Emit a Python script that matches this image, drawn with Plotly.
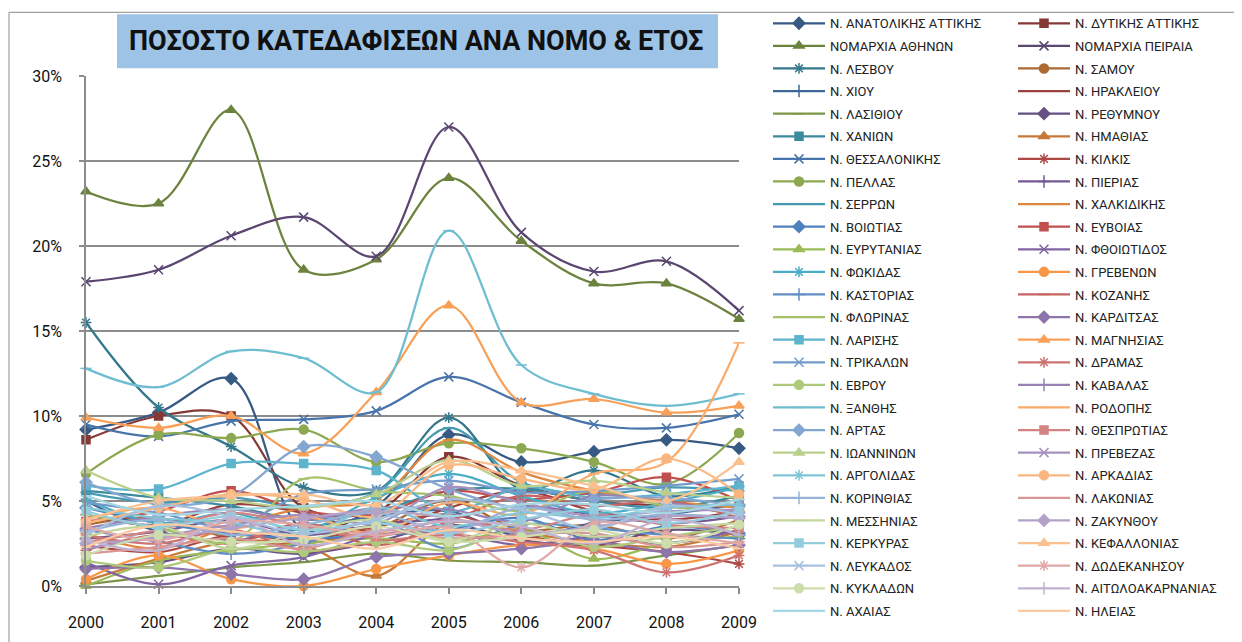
import plotly.graph_objects as go

years = ["2000", "2001", "2002", "2003", "2004", "2005", "2006", "2007", "2008", "2009"]

names = [
    "Ν. ΑΝΑΤΟΛΙΚΗΣ ΑΤΤΙΚΗΣ", "Ν. ΔΥΤΙΚΗΣ ΑΤΤΙΚΗΣ", "ΝΟΜΑΡΧΙΑ ΑΘΗΝΩΝ", "ΝΟΜΑΡΧΙΑ ΠΕΙΡΑΙΑ",
    "Ν. ΛΕΣΒΟΥ", "Ν. ΣΑΜΟΥ", "Ν. ΧΙΟΥ", "Ν. ΗΡΑΚΛΕΙΟΥ", "Ν. ΛΑΣΙΘΙΟΥ", "Ν. ΡΕΘΥΜΝΟΥ",
    "Ν. ΧΑΝΙΩΝ", "Ν. ΗΜΑΘΙΑΣ", "Ν. ΘΕΣΣΑΛΟΝΙΚΗΣ", "Ν. ΚΙΛΚΙΣ", "Ν. ΠΕΛΛΑΣ", "Ν. ΠΙΕΡΙΑΣ",
    "Ν. ΣΕΡΡΩΝ", "Ν. ΧΑΛΚΙΔΙΚΗΣ", "Ν. ΒΟΙΩΤΙΑΣ", "Ν. ΕΥΒΟΙΑΣ", "Ν. ΕΥΡΥΤΑΝΙΑΣ", "Ν. ΦΘΟΙΩΤΙΔΟΣ",
    "Ν. ΦΩΚΙΔΑΣ", "Ν. ΓΡΕΒΕΝΩΝ", "Ν. ΚΑΣΤΟΡΙΑΣ", "Ν. ΚΟΖΑΝΗΣ", "Ν. ΦΛΩΡΙΝΑΣ", "Ν. ΚΑΡΔΙΤΣΑΣ",
    "Ν. ΛΑΡΙΣΗΣ", "Ν. ΜΑΓΝΗΣΙΑΣ", "Ν. ΤΡΙΚΑΛΩΝ", "Ν. ΔΡΑΜΑΣ", "Ν. ΕΒΡΟΥ", "Ν. ΚΑΒΑΛΑΣ",
    "Ν. ΞΑΝΘΗΣ", "Ν. ΡΟΔΟΠΗΣ", "Ν. ΑΡΤΑΣ", "Ν. ΘΕΣΠΡΩΤΙΑΣ", "Ν. ΙΩΑΝΝΙΝΩΝ", "Ν. ΠΡΕΒΕΖΑΣ",
    "Ν. ΑΡΓΟΛΙΔΑΣ", "Ν. ΑΡΚΑΔΙΑΣ", "Ν. ΚΟΡΙΝΘΙΑΣ", "Ν. ΛΑΚΩΝΙΑΣ", "Ν. ΜΕΣΣΗΝΙΑΣ", "Ν. ΖΑΚΥΝΘΟΥ",
    "Ν. ΚΕΡΚΥΡΑΣ", "Ν. ΚΕΦΑΛΛΟΝΙΑΣ", "Ν. ΛΕΥΚΑΔΟΣ", "Ν. ΔΩΔΕΚΑΝΗΣΟΥ", "Ν. ΚΥΚΛΑΔΩΝ",
    "Ν. ΑΙΤΩΛΟΑΚΑΡΝΑΝΙΑΣ", "Ν. ΑΧΑΙΑΣ", "Ν. ΗΛΕΙΑΣ",
]

# percentages per prefecture
anatolikis_attikis = [9.2, 10.2, 12.2, 3.3, 4.7, 8.9, 7.3, 7.9, 8.6, 8.1]
dytikis_attikis = [8.6, 10.0, 10.0, 4.6, 4.4, 7.6, 5.9, 5.0, 4.7, 4.3]
athinon = [23.2, 22.5, 28.0, 18.6, 19.2, 24.0, 20.3, 17.8, 17.8, 15.7]
peiraia = [17.9, 18.6, 20.6, 21.7, 19.4, 27.0, 20.8, 18.5, 19.1, 16.2]
lesvou = [15.5, 10.5, 8.2, 5.8, 5.6, 9.9, 5.7, 6.8, 5.3, 5.9]
samou = [3.6, 4.0, 2.8, 2.5, 3.4, 5.0, 3.3, 3.6, 2.8, 3.9]
chiou = [5.0, 3.2, 2.7, 3.4, 4.1, 4.4, 2.9, 3.7, 4.2, 4.8]
irakleiou = [4.2, 3.6, 4.8, 4.3, 3.2, 4.6, 5.6, 4.4, 3.9, 4.4]
lasithiou = [0.1, 0.6, 1.1, 1.4, 1.9, 1.5, 1.4, 1.2, 1.8, 2.4]
rethymnou = [1.1, 1.4, 2.2, 1.9, 2.6, 3.6, 2.7, 2.4, 3.3, 3.0]
chanion = [5.6, 5.2, 4.7, 3.9, 4.4, 5.6, 5.7, 5.0, 4.6, 5.3]
imathias = [0.3, 1.6, 2.6, 2.4, 0.6, 3.7, 3.1, 2.6, 2.3, 3.2]
thessalonikis = [9.5, 8.8, 9.7, 9.8, 10.3, 12.3, 10.8, 9.5, 9.3, 10.1]
kilkis = [2.4, 2.0, 3.0, 2.7, 3.5, 4.2, 3.0, 2.4, 2.0, 1.3]
pellas = [6.6, 8.9, 8.7, 9.2, 7.3, 8.4, 8.1, 7.3, 6.0, 9.0]
pierias = [2.8, 3.2, 3.9, 3.0, 3.6, 4.0, 4.7, 4.2, 3.7, 4.1]
serron = [5.5, 4.9, 5.2, 4.7, 5.5, 9.3, 6.1, 5.4, 5.8, 5.6]
chalkidikis = [3.1, 2.2, 3.5, 4.6, 5.1, 8.6, 6.7, 5.6, 5.0, 4.6]
voiotias = [4.6, 3.7, 3.1, 2.8, 3.0, 3.3, 4.0, 2.7, 3.5, 3.1]
evvoias = [3.8, 4.4, 5.6, 4.4, 4.2, 5.6, 5.1, 5.5, 6.4, 5.0]
evrytanias = [0.0, 1.5, 2.1, 2.5, 2.8, 2.5, 3.3, 1.6, 2.5, 2.9]
fthiotidos = [1.4, 0.1, 1.2, 1.7, 3.0, 3.1, 2.4, 2.9, 2.5, 3.3]
fokidas = [5.1, 3.7, 4.3, 3.3, 5.2, 6.6, 5.3, 4.3, 4.9, 5.8]
grevenon = [0.4, 1.8, 0.4, 0.0, 1.0, 1.8, 2.4, 2.2, 1.3, 2.1]
kastorias = [3.3, 2.6, 1.9, 2.5, 3.8, 2.2, 3.6, 3.4, 3.0, 2.8]
kozanis = [2.1, 3.0, 2.5, 3.7, 2.4, 3.8, 5.3, 4.7, 5.0, 4.0]
florinas = [4.2, 3.4, 2.6, 6.3, 5.6, 5.3, 4.4, 5.6, 4.7, 4.4]
karditsas = [1.0, 1.1, 0.7, 0.4, 1.7, 1.9, 2.2, 2.6, 2.0, 2.4]
larisis = [5.9, 5.7, 7.2, 7.2, 6.8, 4.4, 5.8, 5.2, 5.4, 5.9]
magnisias = [9.9, 9.3, 10.0, 7.8, 11.4, 16.5, 10.8, 11.0, 10.2, 10.6]
trikalon = [4.9, 4.3, 3.5, 5.4, 5.7, 6.2, 5.5, 5.6, 5.9, 6.3]
dramas = [3.0, 2.5, 3.3, 2.1, 2.6, 3.0, 2.6, 2.1, 0.8, 1.8]
evrou = [1.5, 1.1, 2.2, 2.0, 2.6, 2.1, 3.4, 2.3, 2.9, 3.5]
kavalas = [3.4, 4.1, 4.5, 3.9, 4.6, 4.5, 3.8, 5.3, 4.9, 4.3]
xanthis = [12.8, 11.7, 13.8, 13.4, 11.4, 20.9, 13.0, 11.3, 10.6, 11.3]
rodopis = [3.9, 4.6, 3.4, 4.1, 3.1, 4.9, 4.2, 6.6, 7.3, 14.3]
artas = [6.1, 4.8, 5.3, 8.2, 7.6, 5.7, 4.6, 5.1, 5.2, 4.7]
thesprotias = [2.6, 3.3, 4.3, 3.5, 2.9, 3.9, 3.3, 4.2, 3.6, 3.4]
ioanninon = [6.8, 5.2, 5.0, 4.6, 5.4, 7.4, 5.9, 6.2, 5.5, 5.2]
prevezas = [2.2, 2.9, 3.6, 4.2, 3.7, 5.8, 4.9, 4.1, 4.4, 4.5]
argolidas = [4.6, 4.0, 3.7, 3.0, 4.6, 3.5, 4.3, 4.0, 4.6, 4.8]
arkadias = [3.7, 4.6, 5.4, 5.1, 4.1, 7.1, 6.3, 5.7, 7.5, 5.4]
korinthias = [3.2, 3.9, 3.0, 3.6, 4.3, 3.2, 4.6, 3.9, 4.2, 4.0]
lakonias = [1.9, 2.3, 2.8, 2.2, 3.3, 2.8, 3.0, 3.1, 2.3, 2.6]
messinias = [2.9, 3.5, 2.2, 3.2, 3.9, 2.7, 3.7, 2.9, 3.4, 3.7]
zakynthou = [2.5, 2.8, 3.4, 4.0, 4.4, 4.0, 3.1, 3.5, 4.1, 4.0]
kerkyras = [4.4, 3.5, 4.1, 3.3, 3.7, 3.1, 3.9, 4.5, 3.7, 4.4]
kefallonias = [3.9, 5.0, 5.3, 5.4, 4.8, 7.3, 6.8, 5.9, 5.0, 7.3]
lefkados = [3.0, 4.7, 4.1, 3.1, 3.9, 5.1, 4.5, 3.4, 4.7, 4.2]
dodekanisou = [3.5, 2.7, 3.8, 3.6, 3.0, 3.4, 1.1, 3.7, 3.1, 2.5]
kykladon = [1.8, 3.0, 2.6, 2.7, 3.5, 2.6, 2.9, 3.3, 2.5, 3.6]
aitoloakarnanias = [2.7, 2.1, 4.0, 2.4, 3.2, 3.8, 3.5, 2.5, 3.9, 3.0]
achaias = [5.3, 4.2, 4.5, 4.7, 5.0, 4.1, 4.8, 4.8, 4.3, 5.1]
ileias = [2.3, 3.6, 3.2, 2.9, 2.2, 3.3, 2.8, 2.6, 2.9, 2.2]

series_values = [
    anatolikis_attikis, dytikis_attikis, athinon, peiraia, lesvou, samou, chiou, irakleiou,
    lasithiou, rethymnou, chanion, imathias, thessalonikis, kilkis, pellas, pierias, serron,
    chalkidikis, voiotias, evvoias, evrytanias, fthiotidos, fokidas, grevenon, kastorias,
    kozanis, florinas, karditsas, larisis, magnisias, trikalon, dramas, evrou, kavalas,
    xanthis, rodopis, artas, thesprotias, ioanninon, prevezas, argolidas, arkadias,
    korinthias, lakonias, messinias, zakynthou, kerkyras, kefallonias, lefkados, dodekanisou,
    kykladon, aitoloakarnanias, achaias, ileias,
]

tick_vals = [0, 5, 10, 15, 20, 25, 30]
tick_text = ["0%", "5%", "10%", "15%", "20%", "25%", "30%"]

# ---------- styling ----------
ACCENTS = ["#4F81BD", "#C0504D", "#9BBB59", "#8064A2", "#4BACC6", "#F79646"]
SYMBOLS = ["diamond", "square", "triangle-up", "x-thin-open", "asterisk-open", "circle",
           "cross-thin-open", "line-ew-open", "line-ew-open"]
SIZES = [9, 8, 9, 9, 9, 9, 9, 8, 8]


def shade(hexc, f):
    r, g, b = (int(hexc[i:i + 2], 16) for i in (1, 3, 5))
    if f < 0:
        r, g, b = (c * (1 + f) for c in (r, g, b))
    else:
        r, g, b = (c + (255 - c) * f for c in (r, g, b))
    return "#%02X%02X%02X" % (round(r), round(g), round(b))


# page offset (default 8px body margin of the html page)
OFF = 8
W, H = 1242 - OFF, 642 - OFF
# plot area in page pixels
PL, PR, PT, PB = 86, 739, 75.7, 585.7


def fx(px):
    return (px - PL) / (PR - PL)


def fy(py):
    return (PB - py) / (PB - PT)


FONT = "Roboto, 'Noto Sans', sans-serif"

fig = go.Figure()
for i, (name, vals) in enumerate(zip(names, series_values)):
    grp = i // 6
    color = shade(ACCENTS[i % 6], -0.3 + 0.1 * grp)
    k = i % 9
    fig.add_trace(go.Scatter(
        x=years, y=vals, name=name, mode="lines+markers",
        line=dict(color=color, width=2.25, shape="spline", smoothing=1.0),
        marker=dict(symbol=SYMBOLS[k], size=SIZES[k], color=color,
                    line=dict(color=color, width=1.5)),
        legend="legend" if i % 2 == 0 else "legend2",
        legendgroup="g%d" % i,
        cliponaxis=False,
        hovertemplate="%{x}: %{y:.1f}%<extra>" + name + "</extra>",
    ))

legend_common = dict(
    orientation="v", xanchor="left", yanchor="top", y=fy(8),
    traceorder="grouped", tracegroupgap=2.7, itemwidth=52, maxheight=700,
    font=dict(family=FONT, size=13, color="#222222"),
    bgcolor="rgba(0,0,0,0)", borderwidth=0, itemsizing="trace",
)

fig.update_layout(
    width=W, height=H,
    margin=dict(l=PL - OFF, r=1242 - PR, t=PT - OFF, b=642 - PB, pad=0, autoexpand=False),
    paper_bgcolor="white", plot_bgcolor="white",
    showlegend=True,
    legend=dict(x=fx(768), **legend_common),
    legend2=dict(x=fx(1013), **legend_common),
    xaxis=dict(
        type="category", range=[0, 9], showgrid=False,
        showline=True, linecolor="#8C8C8C", linewidth=1.5,
        ticks="outside", ticklen=6, tickcolor="#8C8C8C", tickwidth=1.5,
        tickfont=dict(family=FONT, size=16, color="#111111"),
        ticklabelstandoff=15,
    ),
    yaxis=dict(
        range=[0, 30], tickvals=tick_vals, ticktext=tick_text,
        showgrid=True, gridcolor="#8C8C8C", gridwidth=1.5, zeroline=False,
        showline=True, linecolor="#8C8C8C", linewidth=1.5,
        ticks="outside", ticklen=5, tickcolor="#8C8C8C", tickwidth=1.5,
        tickfont=dict(family=FONT, size=16, color="#111111"),
        ticklabelstandoff=14,
    ),
    shapes=[
        dict(type="rect", xref="paper", yref="paper",
             x0=fx(117), x1=fx(718), y0=fy(68), y1=fy(14),
             fillcolor="#9DC3E6", line=dict(width=0), layer="below"),
        dict(type="line", xref="paper", yref="paper",
             x0=fx(9), x1=fx(1250), y0=fy(12), y1=fy(12),
             line=dict(color="#A0A0A0", width=1.2)),
        dict(type="line", xref="paper", yref="paper",
             x0=fx(9), x1=fx(9), y0=fy(12), y1=fy(660),
             line=dict(color="#A0A0A0", width=1.2)),
    ],
    annotations=[
        dict(text="ΠΟΣΟΣΤΟ ΚΑΤΕΔΑΦΙΣΕΩΝ ΑΝΑ ΝΟΜΟ & ΕΤΟΣ", xref="paper", yref="paper",
             x=fx(416), y=fy(41), xanchor="center", yanchor="middle", showarrow=False,
             font=dict(family=FONT, size=27, color="#111111", weight="bold")),
    ],
)

fig.write_html("out.html")
